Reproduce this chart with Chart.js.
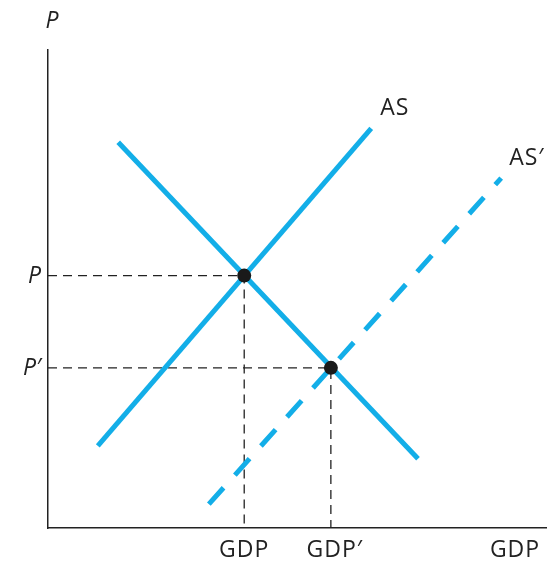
<!DOCTYPE html>
<html>
<head>
<meta charset="utf-8">
<script src="https://cdn.jsdelivr.net/npm/chart.js@4/dist/chart.umd.min.js"></script>
<style>
  html, body { margin: 0; padding: 0; background: #fff; overflow: hidden; }
  #wrap { width: 553px; height: 565px; }
</style>
</head>
<body>
<div id="wrap"><canvas id="adas"></canvas></div>
<script>
// curve end points (GDP on x, price level on y, 0-100 units)
const adGdp = [14.1, 74.3];
const adPrice = [80.7, 14.5];
const asGdp = [10.0, 64.9];
const asPrice = [17.2, 83.6];
const as2Gdp = [32.3, 91.0];
const as2Price = [5.0, 73.2];

// equilibria
const eqGdp = [39.4, 56.8];
const eqPrice = [52.8, 33.5];
const gdpLabels = ['GDP', 'GDP\u2032'];
const priceLabels = ['P', 'P\u2032'];

const blue = '#13aee8';
const ink = '#222';
const font = '"Open Sans", "Noto Sans", sans-serif';

const pts = (xs, ys) => xs.map((x, i) => ({ x: x, y: ys[i] }));
const guide = i => [{ x: 0, y: eqPrice[i] }, { x: eqGdp[i], y: eqPrice[i] }, { x: eqGdp[i], y: 0 }];

const labelPlugin = {
    id: 'labels',
    afterDatasetsDraw(chart) {
        const c = chart.ctx;
        const xs = chart.scales.x, ys = chart.scales.y;
        c.save();
        c.fillStyle = ink;
        c.textBaseline = 'middle';
        c.font = '23px ' + font;
        c.letterSpacing = '1px';
        c.textAlign = 'center';
        eqGdp.forEach((g, i) => c.fillText(gdpLabels[i], xs.getPixelForValue(g) + (i ? 4 : 0), 550));
        c.fillText('GDP', 515, 550);
        c.textAlign = 'left';
        c.fillText('AS', xs.getPixelForValue(asGdp[1]) + 9, ys.getPixelForValue(asPrice[1]) - 20);
        c.fillText('AS\u2032', xs.getPixelForValue(as2Gdp[1]) + 8, ys.getPixelForValue(as2Price[1]) - 20);
        c.letterSpacing = '0px';
        c.font = 'italic 23px ' + font;
        c.textAlign = 'right';
        eqPrice.forEach((p, i) => c.fillText(priceLabels[i], 41, ys.getPixelForValue(p) + 1));
        c.textAlign = 'center';
        c.fillText('P', 52, 21);
        c.restore();
    }
};

new Chart(document.getElementById('adas'), {
    type: 'scatter',
    data: {
        datasets: [
            {
                data: pts(eqGdp, eqPrice),
                backgroundColor: '#1a1a1a',
                borderWidth: 0,
                pointRadius: 7,
                showLine: false
            },
            {
                data: pts(asGdp, asPrice),
                showLine: true,
                borderColor: blue,
                borderWidth: 5,
                pointRadius: 0
            },
            {
                data: pts(adGdp, adPrice),
                showLine: true,
                borderColor: blue,
                borderWidth: 5,
                pointRadius: 0
            },
            {
                data: pts(as2Gdp, as2Price),
                showLine: true,
                borderColor: blue,
                borderWidth: 5,
                borderDash: [22, 17],
                pointRadius: 0
            },
            {
                data: guide(0),
                showLine: true,
                borderColor: ink,
                borderWidth: 1.3,
                borderDash: [9, 6],
                pointRadius: 0
            },
            {
                data: guide(1),
                showLine: true,
                borderColor: ink,
                borderWidth: 1.3,
                borderDash: [9, 6],
                pointRadius: 0
            }
        ]
    },
    options: {
        responsive: true,
        maintainAspectRatio: false,
        animation: false,
        clip: false,
        layout: { padding: { left: 40, right: 0, top: 50, bottom: 29 } },
        plugins: { legend: { display: false }, tooltip: { enabled: false } },
        scales: {
            x: {
                type: 'linear', min: 0, max: 100,
                grid: { display: false },
                border: { display: true, color: ink, width: 1.5 },
                ticks: { display: false }
            },
            y: {
                type: 'linear', min: 0, max: 100,
                grid: { display: false },
                border: { display: true, color: ink, width: 1.5 },
                ticks: { display: false }
            }
        }
    },
    plugins: [labelPlugin]
});
</script>
</body>
</html>
